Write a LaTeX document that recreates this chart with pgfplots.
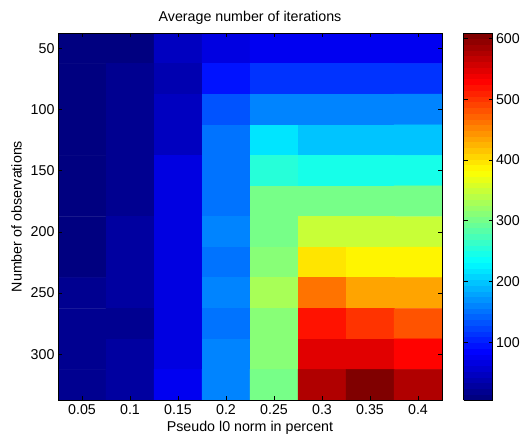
\documentclass[border=0pt]{standalone}
\usepackage{pgfplots}
\pgfplotsset{compat=1.18}
\usepackage{fontspec}
\setmainfont{Liberation Sans}
\begin{document}
\begin{tikzpicture}
\useasboundingbox (0,0) rectangle (531bp,437bp);
\begin{axis}[
  at={(58bp,37bp)}, anchor=south west,
  scale only axis, width=384bp, height=367bp,
  xmin=0.025, xmax=0.425, ymin=37.5, ymax=337.5, y dir=reverse,
  xtick={0.05,0.1,0.15,0.2,0.25,0.3,0.35,0.4},
  xticklabels={0.05,0.1,0.15,0.2,0.25,0.3,0.35,0.4},
  ytick={50,100,150,200,250,300},
  tick align=inside, major tick length=4bp,
  tick style={black, line width=0.5pt},
  axis line style={black, line width=0.8pt},
  font=\fontsize{14.3}{16}\selectfont,
  /pgf/number format/assume math mode=true,
  title={Average number of iterations},
  title style={yshift=-1bp},
  xlabel={Pseudo l0 norm in percent},
  xlabel style={yshift=0bp},
  ylabel={Number of observations},
  ylabel style={yshift=2bp},
  xticklabel style={yshift=-1bp},
  colormap/jet,
  colormap={jet64}{samples of colormap=(64 of jet)},
  colormap access=piecewise constant,
  point meta min=5, point meta max=609,
  colorbar,
  colorbar style={at={(parent axis.north east)}, anchor=north west, xshift=13bp,
    width=29bp, ytick={100,200,300,400,500,600},
    tick align=inside, major tick length=4bp,
    font=\fontsize{14.3}{16}\selectfont,
    /pgf/number format/assume math mode=true,
    axis line style={black, line width=0.8pt}},
  axis on top,
]
\addplot[matrix plot*, mesh/cols=8, mesh/rows=12, point meta=explicit] table[meta=c] {
x y c
0.05 50 12
0.1 50 5
0.15 50 52
0.2 50 65
0.25 50 80
0.3 50 80
0.35 50 80
0.4 50 80
0.05 75 7
0.1 75 18
0.15 75 38
0.2 75 99
0.25 75 118
0.3 75 118
0.35 75 118
0.4 75 118
0.05 100 7
0.1 100 18
0.15 100 52
0.2 100 137
0.25 100 165
0.3 100 165
0.35 100 165
0.4 100 165
0.05 125 7
0.1 125 18
0.15 125 52
0.2 125 147
0.25 125 213
0.3 125 203
0.35 125 203
0.4 125 203
0.05 150 7
0.1 150 18
0.15 150 62
0.2 150 147
0.25 150 259
0.3 150 250
0.35 150 250
0.4 150 250
0.05 175 7
0.1 175 18
0.15 175 62
0.2 175 147
0.25 175 298
0.3 175 298
0.35 175 298
0.4 175 298
0.05 200 7
0.1 200 25
0.15 200 62
0.2 200 156
0.25 200 298
0.3 200 354
0.35 200 345
0.4 200 345
0.05 225 7
0.1 225 25
0.15 225 62
0.2 225 147
0.25 225 316
0.3 225 401
0.35 225 390
0.4 225 390
0.05 250 18
0.1 250 25
0.15 250 71
0.2 250 156
0.25 250 326
0.3 250 458
0.35 250 439
0.4 250 430
0.05 275 18
0.1 275 22
0.15 275 71
0.2 275 147
0.25 275 307
0.3 275 515
0.35 275 496
0.4 275 486
0.05 300 18
0.1 300 33
0.15 300 71
0.2 300 161
0.25 300 307
0.3 300 552
0.35 300 543
0.4 300 533
0.05 325 18
0.1 325 33
0.15 325 80
0.2 325 161
0.25 325 298
0.3 325 580
0.35 325 609
0.4 325 580
};
\end{axis}
\end{tikzpicture}
\end{document}
